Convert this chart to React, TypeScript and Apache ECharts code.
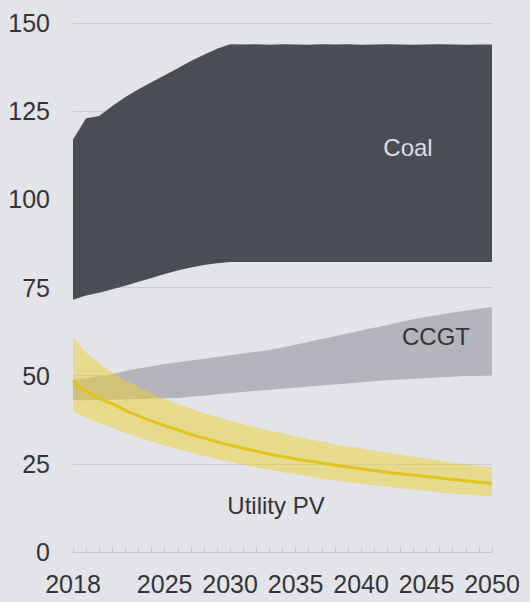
import React, { useEffect, useRef } from "react";
import * as echarts from "echarts";

const years = [
  2018, 2019, 2020, 2021, 2022, 2023, 2024, 2025, 2026, 2027, 2028,
  2029, 2030, 2031, 2032, 2033, 2034, 2035, 2036, 2037, 2038, 2039,
  2040, 2041, 2042, 2043, 2044, 2045, 2046, 2047, 2048, 2049, 2050,
];

const coalLow = [
  71.5, 72.7, 73.5, 74.5, 75.5, 76.6, 77.7, 78.8, 79.8, 80.7, 81.4,
  81.9, 82.2, 82.2, 82.2, 82.2, 82.2, 82.2, 82.2, 82.2, 82.2, 82.2,
  82.2, 82.2, 82.2, 82.2, 82.2, 82.2, 82.2, 82.2, 82.2, 82.2, 82.2,
];
const coalHigh = [
  117, 123, 123.6, 126.5, 129, 131.2, 133.2, 135.2, 137.2, 139.2, 141,
  142.7, 144, 143.9, 144, 143.8, 144, 143.9, 143.8, 144, 143.9, 144,
  143.8, 143.9, 144, 143.9, 143.8, 143.9, 144, 143.9, 143.8, 143.9, 143.9,
];

const ccgtLow = [
  43, 43, 43.1, 43.2, 43.3, 43.4, 43.5, 43.6, 43.7, 44, 44.3,
  44.7, 45, 45.4, 45.7, 46, 46.3, 46.6, 46.9, 47.2, 47.5, 47.8,
  48.1, 48.4, 48.7, 48.9, 49.1, 49.3, 49.5, 49.7, 49.9, 50, 50.2,
];
const ccgtHigh = [
  49, 49.3, 49.8, 50.5, 51.3, 52, 52.7, 53.3, 53.8, 54.3, 54.8,
  55.3, 55.8, 56.3, 56.8, 57.3, 58, 58.8, 59.6, 60.4, 61.2, 62,
  62.8, 63.6, 64.4, 65.2, 66, 66.7, 67.3, 67.9, 68.4, 69, 69.5,
];

const pvLow = [
  40, 38, 36.5, 35.2, 33.8, 32.5, 31.3, 30.2, 29.2, 28.2, 27.2,
  26.3, 25.5, 24.7, 24, 23.3, 22.6, 22, 21.4, 20.8, 20.3, 19.8,
  19.3, 18.9, 18.5, 18.1, 17.7, 17.3, 16.9, 16.6, 16.3, 16, 15.7,
];
const pvMid = [
  48.5, 45.5, 43.5, 42, 40.2, 38.6, 37.2, 35.8, 34.6, 33.4, 32.3,
  31.3, 30.3, 29.4, 28.6, 27.8, 27.1, 26.4, 25.8, 25.2, 24.6, 24.1,
  23.6, 23.1, 22.6, 22.2, 21.8, 21.4, 21, 20.6, 20.2, 19.8, 19.5,
];
const pvHigh = [
  61, 56.5, 53.5, 51, 48.8, 46.8, 45, 43.4, 42, 40.6, 39.4,
  38.3, 37.2, 36.2, 35.3, 34.4, 33.6, 32.8, 32, 31.3, 30.6, 30,
  29.4, 28.8, 28.2, 27.6, 27, 26.5, 26, 25.4, 24.9, 24.4, 24,
];

const FONT = '"Liberation Sans", Arial, sans-serif';

function band(name: string, low: number[], high: number[], color: string) {
  return [
    {
      name: name + "-base",
      type: "line",
      stack: name,
      data: low,
      symbol: "none",
      lineStyle: { width: 0, opacity: 0 },
      silent: true,
    },
    {
      name,
      type: "line",
      stack: name,
      data: high.map((v, i) => +(v - low[i]).toFixed(2)),
      symbol: "none",
      lineStyle: { width: 0, opacity: 0 },
      areaStyle: { color, opacity: 1 },
      silent: true,
    },
  ];
}

export default function App() {
  const ref = useRef<HTMLDivElement>(null);
  useEffect(() => {
    if (!ref.current) return;
    const chart = echarts.init(ref.current, undefined, { renderer: "svg" });
    chart.setOption({
      animation: false,
      backgroundColor: "#e3e4e9",
      grid: { left: 73, right: 38, top: 23, bottom: 50 },
      xAxis: {
        type: "category",
        data: years,
        boundaryGap: false,
        axisLine: { show: true, lineStyle: { color: "#c2c3ca", width: 1 } },
        axisTick: {
          show: true,
          inside: true,
          interval: 0,
          length: 4,
          lineStyle: { color: "#c2c3ca" },
        },
        axisLabel: {
          interval: (_i: number, v: string) => {
            const y = Number(v);
            return y === 2018 || (y >= 2025 && y % 5 === 0);
          },
          color: "#333338",
          fontSize: 25,
          fontFamily: FONT,
          margin: 19,
        },
        splitLine: { show: false },
      },
      yAxis: {
        type: "value",
        min: 0,
        max: 150,
        interval: 25,
        axisLine: { show: false },
        axisTick: { show: false },
        axisLabel: {
          color: "#333338",
          fontSize: 25,
          fontFamily: FONT,
          margin: 23,
        },
        splitLine: { show: true, lineStyle: { color: "#c9cad1", width: 1 } },
      },
      series: [
        ...band("CCGT", ccgtLow, ccgtHigh, "#b4b5bc"),
        ...band("Coal", coalLow, coalHigh, "#4b4d55"),
        ...band("Utility PV", pvLow, pvHigh, "rgba(238, 208, 50, 0.5)"),
        {
          name: "Utility PV mid",
          type: "line",
          data: pvMid,
          symbol: "none",
          smooth: true,
          lineStyle: { color: "#e2c21c", width: 3 },
          silent: true,
        },
      ],
      graphic: [
        {
          type: "text",
          x: 408,
          y: 147,
          z: 100,
          style: {
            text: "Coal",
            fill: "#dcdde3",
            font: `24px ${FONT}`,
            align: "center",
            verticalAlign: "middle",
          },
        },
        {
          type: "text",
          x: 436,
          y: 336,
          z: 100,
          style: {
            text: "CCGT",
            fill: "#333338",
            font: `24px ${FONT}`,
            align: "center",
            verticalAlign: "middle",
          },
        },
        {
          type: "text",
          x: 276,
          y: 505,
          z: 100,
          style: {
            text: "Utility PV",
            fill: "#333338",
            font: `24px ${FONT}`,
            align: "center",
            verticalAlign: "middle",
          },
        },
      ],
    });
    return () => chart.dispose();
  }, []);
  return (
    <div
      ref={ref}
      style={{ position: "fixed", left: 0, top: 0, width: 530, height: 602 }}
    />
  );
}
